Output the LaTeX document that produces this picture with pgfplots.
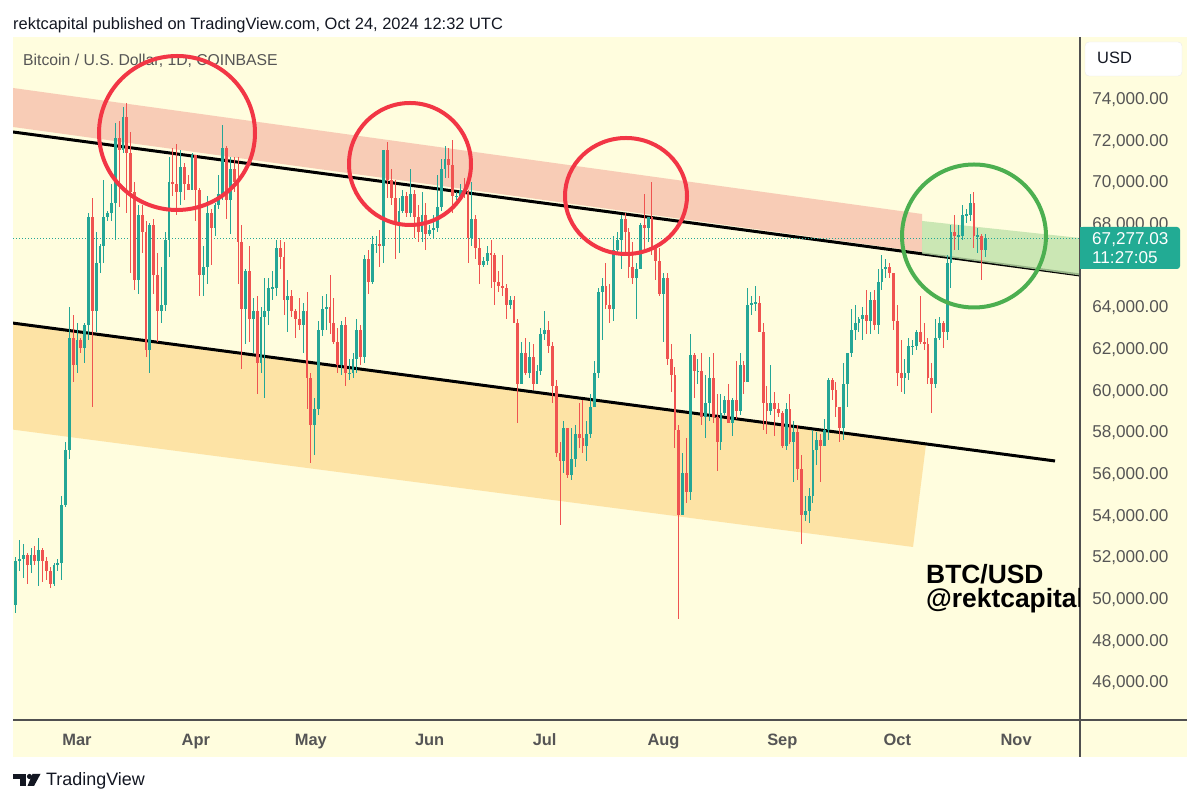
\documentclass[border=0pt]{standalone}
\usepackage{pgfplots}
\pgfplotsset{compat=1.18}
\usepackage{pgfplotstable}
\usepackage{fontspec}
\setmainfont{Liberation Sans}
\definecolor{panel}{RGB}{255,253,222}
\definecolor{up}{RGB}{36,166,150}
\definecolor{dn}{RGB}{239,83,80}
\definecolor{salmon}{RGB}{248,204,182}
\definecolor{greenband}{RGB}{190,226,170}
\definecolor{orangeband}{RGB}{253,227,165}
\definecolor{circred}{RGB}{242,54,69}
\definecolor{circgreen}{RGB}{76,175,80}
\definecolor{axgray}{RGB}{80,80,80}
\definecolor{txtgray}{RGB}{85,85,85}
\definecolor{pricebox}{RGB}{34,171,148}
\definecolor{tvblack}{RGB}{19,23,34}

\pgfplotstableread{
d o h l c
-16 49.7 52.0 49.3 51.8
-15 51.8 52.8 51.3 51.9
-14 51.9 52.6 51.0 52.1
-13 52.1 52.2 50.7 51.6
-12 51.6 52.4 51.2 52.1
-11 52.1 52.5 51.6 51.8
-10 51.8 52.9 50.6 52.3
-9 52.3 52.4 50.8 51.8
-8 51.8 52.0 50.9 51.3
-7 51.3 51.5 50.5 50.7
-6 50.7 51.7 50.6 51.6
-5 51.6 51.9 51.3 51.7
-4 51.7 54.9 50.9 54.5
-3 54.5 57.5 54.4 57.1
-2 57.1 64.0 56.7 62.5
-1 62.5 63.6 60.4 61.2
0 61.2 63.2 60.8 62.4
1 62.4 62.5 61.8 62.0
2 62.0 63.2 61.3 63.1
3 63.1 68.5 62.4 68.3
4 68.3 69.2 59.2 63.8
5 63.8 67.6 62.8 66.1
6 66.1 67.0 65.6 66.9
7 66.9 70.1 66.1 68.3
8 68.3 68.6 68.1 68.5
9 68.5 69.9 68.1 69.0
10 69.0 72.8 67.2 72.1
11 72.1 72.9 68.8 71.5
12 71.5 73.6 71.4 73.1
13 73.1 73.8 68.5 71.4
14 71.4 72.4 65.6 69.5
15 69.5 70.0 64.8 65.3
16 65.3 68.9 64.6 68.4
17 68.4 68.9 66.6 67.6
18 67.6 68.1 61.6 61.9
19 61.9 68.0 60.8 67.9
20 67.9 68.2 64.6 65.5
21 65.5 66.6 62.3 63.8
22 63.8 65.9 63.2 64.1
23 64.1 67.6 63.8 67.2
24 67.2 71.2 66.4 70.0
25 70.0 71.6 69.3 69.9
26 69.9 71.8 68.4 69.5
27 69.5 71.5 68.9 70.7
28 70.7 70.9 69.1 69.9
29 69.9 70.3 69.6 69.6
30 69.6 71.4 69.6 71.3
31 71.3 71.3 68.1 69.6
32 69.6 69.7 64.5 65.5
33 65.5 66.9 64.5 65.9
34 65.9 69.3 65.1 68.5
35 68.5 68.7 66.0 67.8
36 67.8 69.0 67.4 68.9
37 68.9 70.3 68.7 69.4
38 69.4 72.7 69.1 71.6
39 71.6 71.7 68.2 69.1
40 69.1 71.2 67.5 70.6
41 70.6 71.2 69.5 70.0
42 70.0 71.2 65.1 67.1
43 67.1 67.9 61.0 63.9
44 63.9 65.8 62.2 65.7
45 65.7 66.9 62.3 63.4
46 63.4 64.4 61.8 63.8
47 63.8 64.5 59.8 61.3
48 61.3 64.0 60.8 63.5
49 63.5 65.4 59.6 63.8
50 63.8 65.4 63.1 64.9
51 64.9 65.7 64.3 64.9
52 64.9 67.2 64.5 66.8
53 66.8 67.2 65.8 66.4
54 66.4 67.1 63.6 64.3
55 64.3 65.3 62.8 64.5
56 64.5 64.8 63.5 63.8
57 63.8 63.9 62.5 63.4
58 63.4 64.4 62.9 63.1
59 63.1 64.2 61.8 63.8
60 63.8 64.7 59.1 60.6
61 60.6 60.8 56.5 58.3
62 58.3 59.6 56.9 59.1
63 59.1 63.3 58.8 62.9
64 62.9 64.5 62.6 63.9
65 63.9 64.6 62.9 64.0
66 64.0 65.5 62.7 63.2
67 63.2 64.4 62.2 62.3
68 62.3 63.0 60.8 61.2
69 61.2 63.3 60.7 63.1
70 63.1 63.5 60.2 60.8
71 60.8 61.5 60.5 60.8
72 60.8 61.8 60.6 61.5
73 61.5 63.4 60.8 62.9
74 62.9 63.1 61.2 61.6
75 61.6 66.5 61.3 66.3
76 66.3 66.7 64.6 65.2
77 65.2 67.4 65.1 67.0
78 67.0 67.4 66.6 67.0
79 67.0 67.7 65.9 66.9
80 66.9 71.5 66.1 71.5
81 71.5 71.9 69.2 70.1
82 70.1 70.6 68.9 69.2
83 69.2 70.1 66.3 67.9
84 67.9 69.2 66.6 68.6
85 68.6 69.6 68.5 69.3
86 69.3 69.5 68.3 68.5
87 68.5 70.6 68.3 69.4
88 69.4 69.6 67.3 68.3
89 68.3 68.9 67.1 67.6
90 67.6 69.5 67.1 68.4
91 68.4 69.0 66.7 67.5
92 67.5 67.9 67.4 67.7
93 67.7 68.4 67.3 67.8
94 67.8 70.3 67.6 68.8
95 68.8 71.1 68.6 70.6
96 70.6 71.7 70.2 71.1
97 71.1 71.6 70.2 70.8
98 70.8 72.0 68.5 69.3
99 69.3 69.5 69.1 69.3
100 69.3 69.9 69.2 69.6
101 69.6 70.2 69.2 69.5
102 69.5 69.6 66.1 67.3
103 67.3 70.0 66.9 68.2
104 68.2 68.4 66.3 66.8
105 66.8 67.3 65.1 66.0
106 66.0 66.4 65.9 66.2
107 66.2 66.9 66.0 66.6
108 66.6 67.2 64.9 66.5
109 66.5 66.6 64.1 65.2
110 65.2 65.7 64.7 65.0
111 65.0 66.5 64.5 64.9
112 64.9 65.1 63.4 64.1
113 64.1 64.5 63.9 64.3
114 64.3 64.5 63.2 63.2
115 63.2 63.4 58.4 60.3
116 60.3 62.3 60.3 61.8
117 61.8 62.5 60.7 60.8
118 60.8 62.3 60.6 61.6
119 61.6 62.2 60.0 60.3
120 60.3 61.2 60.3 60.9
121 60.9 63.0 60.7 62.7
122 62.7 63.8 62.4 62.9
123 62.9 63.3 61.8 62.1
124 62.1 62.3 59.4 60.2
125 60.2 60.5 56.8 57.0
126 57.0 57.5 53.5 56.6
127 56.6 58.5 56.0 58.2
128 58.2 58.2 55.8 55.9
129 55.9 58.2 55.7 56.7
130 56.7 58.3 56.3 57.9
131 57.9 59.4 57.2 57.7
132 57.7 59.5 57.0 57.3
133 57.3 58.5 56.6 57.9
134 57.9 59.8 57.7 59.2
135 59.2 61.4 59.2 60.8
136 60.8 64.9 60.6 64.7
137 64.7 65.4 62.4 65.0
138 65.0 66.1 63.9 64.1
139 64.1 65.1 63.2 63.9
140 63.9 67.4 63.3 66.7
141 66.7 67.6 66.5 67.2
142 67.2 68.4 65.8 68.2
143 68.2 68.5 66.6 67.6
144 67.6 67.8 65.4 65.9
145 65.9 67.1 65.1 65.4
146 65.4 66.1 63.4 65.8
147 65.8 68.0 65.8 67.9
148 67.9 69.4 66.7 67.8
149 67.8 68.3 67.1 68.3
150 68.3 70.0 66.5 66.8
151 66.8 66.9 65.3 66.2
152 66.2 66.8 64.5 64.6
153 64.6 65.6 62.3 65.4
154 65.4 65.6 61.2 61.5
155 61.5 62.2 59.9 60.7
156 60.7 61.1 57.2 58.1
157 58.1 58.3 49.0 54.0
158 54.0 57.0 54.0 56.0
159 56.0 57.7 54.6 55.1
160 55.1 62.7 54.7 61.7
161 61.7 61.8 59.6 60.9
162 60.9 61.5 60.3 60.9
163 60.9 61.8 58.3 58.7
164 58.7 60.7 57.7 59.4
165 59.4 61.6 58.5 60.6
166 60.6 61.8 58.4 58.7
167 58.7 59.8 56.1 57.5
168 57.5 59.8 57.1 58.9
169 58.9 59.7 58.8 59.5
170 59.5 60.3 58.4 58.4
171 58.4 59.6 57.8 59.5
172 59.5 61.4 58.6 59.0
173 59.0 61.8 58.8 61.2
174 61.2 61.4 59.8 60.4
175 60.4 64.9 60.4 64.1
176 64.1 64.5 63.6 64.2
177 64.2 65.0 63.8 64.2
178 64.2 64.5 62.8 62.8
179 62.8 63.2 58.1 59.4
180 59.4 60.2 57.9 59.0
181 59.0 61.2 58.8 59.4
182 59.4 59.9 57.8 59.1
183 59.1 59.4 58.7 58.9
184 58.9 59.0 57.2 57.3
185 57.3 59.4 57.1 59.1
186 59.1 59.8 57.4 57.5
187 57.5 58.5 55.6 58.0
188 58.0 58.3 55.7 56.2
189 56.2 56.9 52.6 54.0
190 54.0 54.9 53.7 54.2
191 54.2 55.3 53.6 54.9
192 54.9 58.1 54.6 57.1
193 57.1 58.0 56.4 57.6
194 57.6 57.9 55.6 57.3
195 57.3 58.6 57.3 58.1
196 58.1 60.6 57.6 60.5
197 60.5 60.6 59.5 60.0
198 60.0 60.4 58.7 59.2
199 59.2 59.2 57.5 58.2
200 58.2 61.3 57.6 60.3
201 60.3 61.8 59.2 61.8
202 61.8 63.9 61.6 62.9
203 62.9 64.1 62.4 63.2
204 63.2 63.5 62.8 63.4
205 63.4 64.0 62.4 63.6
206 63.6 64.8 62.7 63.3
207 63.3 64.7 62.7 64.3
208 64.3 64.8 62.9 63.1
209 63.1 65.8 62.7 65.2
210 65.2 66.5 64.8 65.8
211 65.8 66.3 65.4 65.9
212 65.9 66.1 65.4 65.6
213 65.6 65.6 62.9 63.3
214 63.3 64.1 60.2 60.8
215 60.8 62.4 59.9 60.6
216 60.6 61.5 59.8 60.8
217 60.8 62.5 60.5 62.1
218 62.1 62.4 61.7 62.1
219 62.1 62.9 61.9 62.8
220 62.8 64.5 62.2 62.3
221 62.3 63.2 61.9 62.2
222 62.2 62.5 60.3 60.6
223 60.6 61.3 58.9 60.3
224 60.3 63.4 60.1 62.5
225 62.5 63.5 62.4 63.2
226 63.2 63.3 62.0 62.8
227 62.8 66.5 62.4 66.1
228 66.1 67.9 64.9 67.6
229 67.6 68.4 66.7 67.4
230 67.4 67.9 66.7 67.4
231 67.4 68.9 67.2 68.4
232 68.4 68.7 68.0 68.4
233 68.4 69.4 68.1 69.0
234 69.0 69.5 66.8 67.4
235 67.4 67.8 66.6 67.4
236 67.4 67.5 65.3 66.7
237 66.7 67.5 66.4 67.277
}\btc

\begin{document}
\begin{tikzpicture}[x=1bp,y=1bp]
\useasboundingbox (0,0) rectangle (1200,804);
\fill[white] (0,0) rectangle (1200,804);
\fill[panel] (13,47) rectangle (1187,767);
\node[anchor=base west, inner sep=0, text=txtgray] at (23,738.3) {\fontsize{15.8}{18}\selectfont Bitcoin / U.S. Dollar, 1D, COINBASE};
\begin{axis}[
  at={(13bp,84bp)}, anchor=south west,
  scale only axis, width=1067bp, height=683bp,
  xmin=-16.70, xmax=261.67, ymin=44.162, ymax=76.946,
  axis line style={draw=none},
  major tick length=0pt,
  xtick={0,31,61,92,122,153,184,214,245},
  xticklabels={Mar,Apr,May,Jun,Jul,Aug,Sep,Oct,Nov},
  xticklabel style={font=\fontsize{16.5}{19}\selectfont\bfseries, text=txtgray, anchor=base, inner sep=0pt, yshift=-25.5bp},
  ytick={46,48,...,64,68,70,72,74},
  yticklabels={{46,000.00},{48,000.00},{50,000.00},{52,000.00},{54,000.00},{56,000.00},{58,000.00},{60,000.00},{62,000.00},{64,000.00},{68,000.00},{70,000.00},{72,000.00},{74,000.00}},
  yticklabel pos=right,
  yticklabel style={font=\fontsize{17.2}{19}\selectfont, text=txtgray, anchor=base west, inner sep=0pt, xshift=12bp, yshift=-6.1bp},
  unbounded coords=discard,
  every axis plot/.append style={draw=none, mark=none},
]
% bands
\fill[salmon] (axis cs:-16.70,74.498) -- (axis cs:220.45,68.450) -- (axis cs:220.45,66.626) -- (axis cs:-16.70,72.626) -- cycle;
\fill[orangeband] (axis cs:-16.70,63.213) -- (axis cs:221.5,57.419) -- (axis cs:218.1,52.466) -- (axis cs:-16.70,58.1) -- cycle;
% trend lines
\draw[black, line width=3bp] (axis cs:-16.70,72.386) -- (axis cs:261.67,65.522);
\draw[black, line width=3bp] (axis cs:-16.70,63.213) -- (axis cs:255.15,56.594);
\fill[greenband, fill opacity=0.8] (axis cs:220.45,68.114) -- (axis cs:261.67,67.298) -- (axis cs:261.67,65.50) -- (axis cs:220.45,66.55) -- cycle;
% current price line
\draw[up, line width=1bp, dash pattern=on 1bp off 2bp] (axis cs:-16.70,67.277) -- (axis cs:261.67,67.277);
% wicks
\addplot[draw=none, mark=none, forget plot, error bars/.cd, y dir=both, y explicit, error mark=none, error bar style={draw=up, line width=1bp, solid}]
  table[x=d, y expr={\thisrow{c}>=\thisrow{o} ? (\thisrow{h}+\thisrow{l})/2 : nan}, y error expr={(\thisrow{h}-\thisrow{l})/2}] {\btc};
\addplot[draw=none, mark=none, forget plot, error bars/.cd, y dir=both, y explicit, error mark=none, error bar style={draw=dn, line width=1bp, solid}]
  table[x=d, y expr={\thisrow{c}<\thisrow{o} ? (\thisrow{h}+\thisrow{l})/2 : nan}, y error expr={(\thisrow{h}-\thisrow{l})/2}] {\btc};
% bodies
\addplot[draw=none, mark=none, forget plot, error bars/.cd, y dir=both, y explicit, error mark=none, error bar style={draw=up, line width=2.9bp, solid}]
  table[x=d, y expr={\thisrow{c}>=\thisrow{o} ? (\thisrow{o}+\thisrow{c})/2 : nan}, y error expr={max(abs(\thisrow{c}-\thisrow{o})/2,0.03)}] {\btc};
\addplot[draw=none, mark=none, forget plot, error bars/.cd, y dir=both, y explicit, error mark=none, error bar style={draw=dn, line width=2.9bp, solid}]
  table[x=d, y expr={\thisrow{c}<\thisrow{o} ? (\thisrow{o}+\thisrow{c})/2 : nan}, y error expr={max(abs(\thisrow{c}-\thisrow{o})/2,0.03)}] {\btc};
\end{axis}
% axis lines
\draw[axgray, line width=1.2bp] (13,84) -- (1187,84);
\draw[axgray, line width=1.2bp] (1080,47) -- (1080,767);
% circles
\draw[circred, line width=4bp] (177,671) ellipse [x radius=78bp, y radius=77bp];
\draw[circred, line width=4bp] (410,640) ellipse [x radius=61bp, y radius=61bp];
\draw[circred, line width=4bp] (626,608) ellipse [x radius=61bp, y radius=58bp];
\draw[circgreen, line width=4bp] (974,568) ellipse [x radius=72bp, y radius=71.5bp];
% watermark text
\begin{scope}
\clip (13,84) rectangle (1079.4,767);
\node[anchor=base west, inner sep=0] at (926,220.7) {\fontsize{26.5}{26}\selectfont\bfseries BTC/USD};
\node[anchor=base west, inner sep=0] at (926,196) {\fontsize{26.5}{26}\selectfont\bfseries @rektcapital};
\end{scope}
% price box
\fill[pricebox, rounded corners=3bp] (1080,535) rectangle (1180,577);
\fill[pricebox] (1080,535) rectangle (1090,577);
\node[anchor=base west, inner sep=0, text=white] at (1092,559.5) {\fontsize{17.2}{19}\selectfont 67,277.03};
\node[anchor=base west, inner sep=0, text=white] at (1092,540.3) {\fontsize{17.2}{19}\selectfont 11:27:05};
% USD box
\filldraw[fill=white, draw=black!8, rounded corners=4bp] (1085,728) rectangle (1182,762);
\node[anchor=base west, inner sep=0, text=tvblack] at (1097,740) {\fontsize{16.5}{19}\selectfont USD};
% header
\node[anchor=base west, inner sep=0, text=tvblack] at (13,774.7) {\fontsize{16.5}{19}\selectfont rektcapital published on TradingView.com, Oct 24, 2024 12:32 UTC};
% footer logo
\fill[tvblack] (13,25) rectangle (26,30);
\fill[tvblack] (19.5,18) rectangle (26,30);
\fill[tvblack] (29.5,27.5) circle [radius=2.6bp];
\fill[tvblack] (32.5,30) -- (40.5,30) -- (34,18) -- (27.5,18) -- cycle;
\node[anchor=base west, inner sep=0, text=tvblack] at (46,18) {\fontsize{18}{20}\selectfont TradingView};
\end{tikzpicture}
\end{document}
